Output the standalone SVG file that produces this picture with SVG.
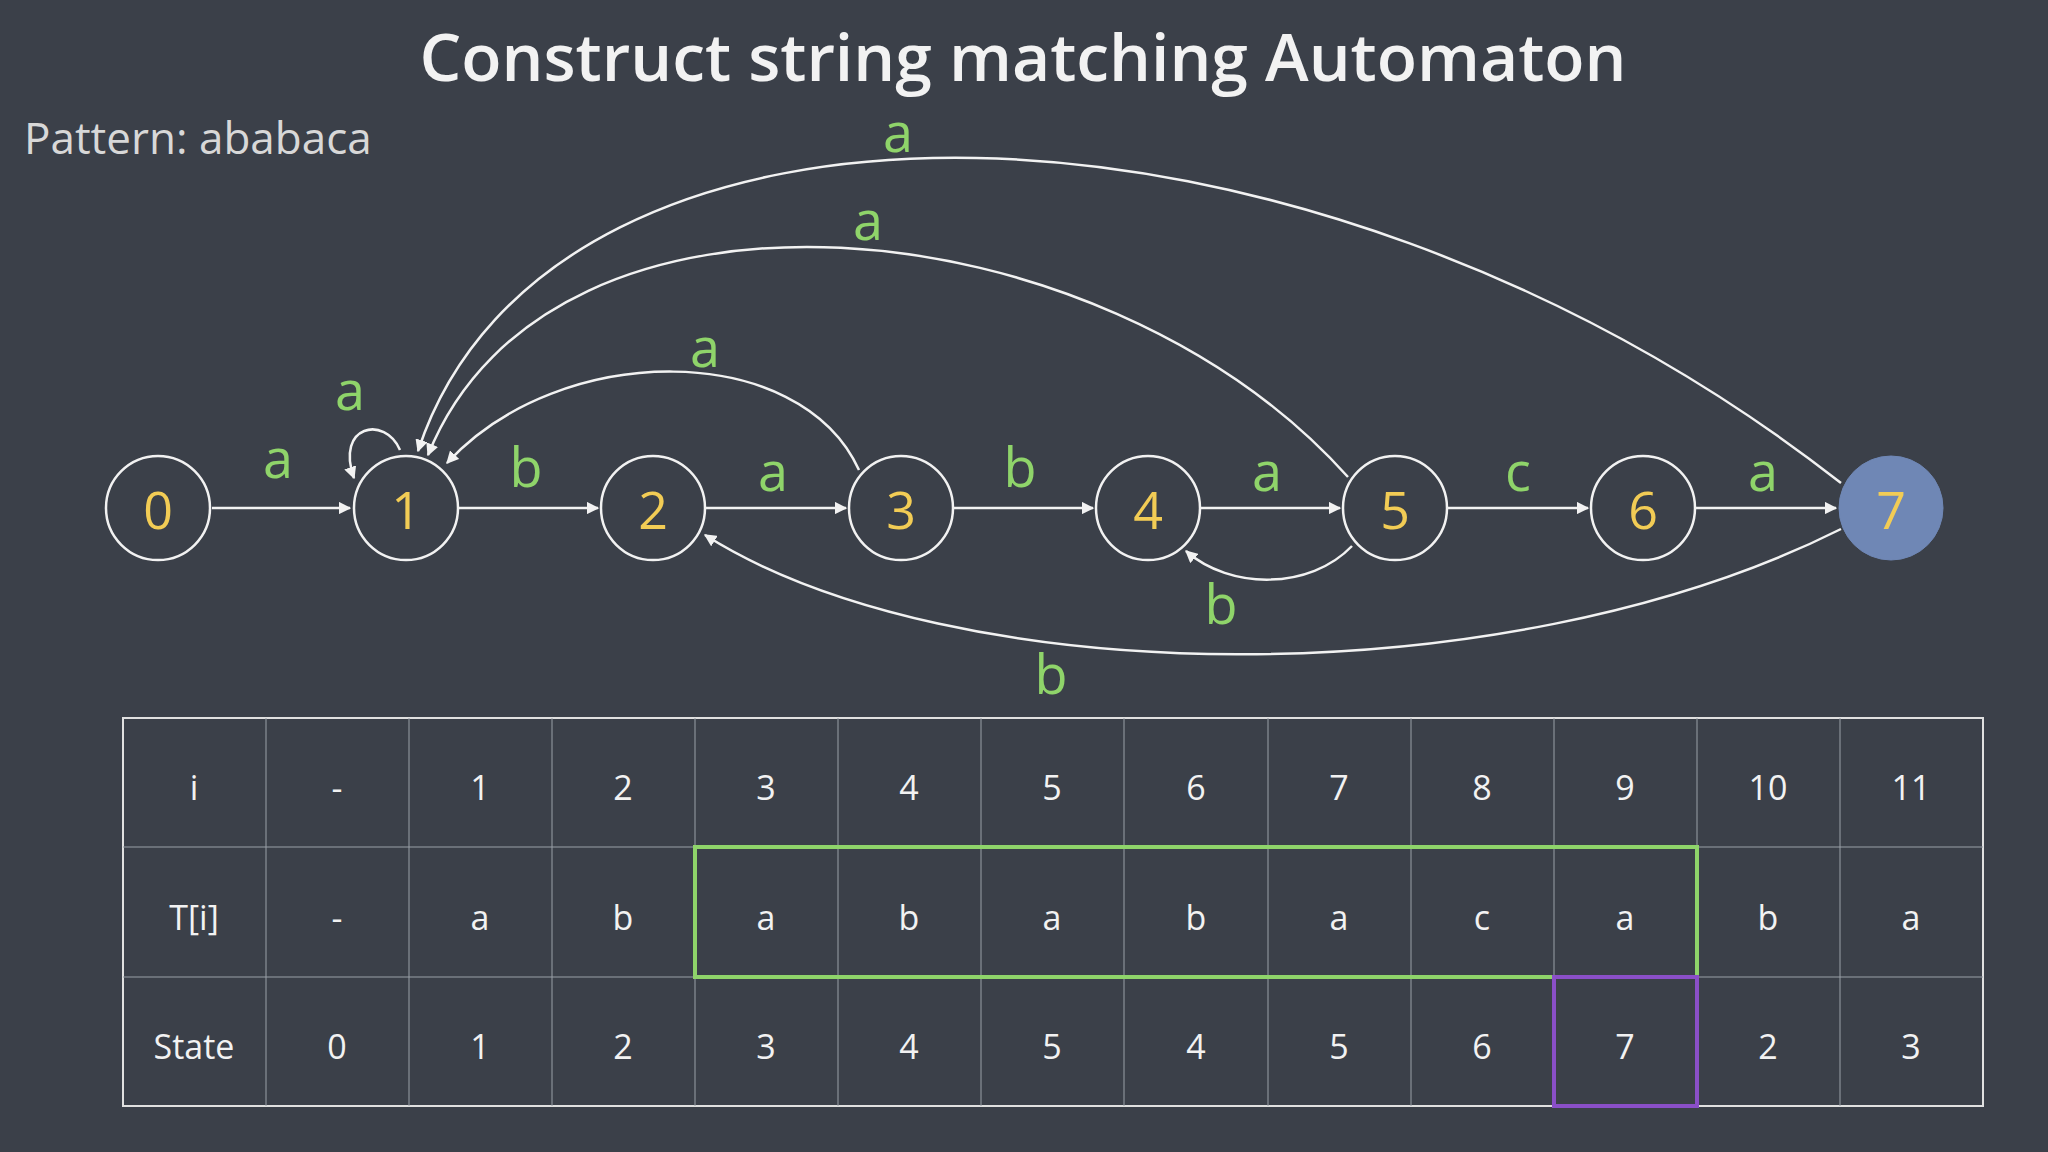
<svg xmlns="http://www.w3.org/2000/svg" width="2048" height="1152" viewBox="0 0 2048 1152">
<style>
.n{fill:none;stroke:#f2f2f2;stroke-width:2.5}
.nt{font-family:"Open Sans",sans-serif;font-size:52px;fill:#f2cc55;text-anchor:middle;dominant-baseline:central}
.e{fill:none;stroke:#f2f2f2;stroke-width:2.5;marker-end:url(#ar)}
.l{font-family:"Open Sans",sans-serif;font-size:54px;fill:#8fd46a;text-anchor:middle;dominant-baseline:central}
.t{font-family:"Open Sans",sans-serif;font-size:34px;fill:#f2f2f2;text-anchor:middle;dominant-baseline:central}
.g{stroke:#9aa0a8;stroke-width:1}
</style>
<defs><marker id="ar" viewBox="0 0 10 10" refX="9" refY="5" markerWidth="5" markerHeight="5" orient="auto"><path d="M0,0L10,5L0,10z" fill="#f2f2f2"/></marker></defs>
<rect width="2048" height="1152" fill="#3b4049"/>
<text x="1023" y="55" font-family="Open Sans,sans-serif" font-size="66" font-weight="600" fill="#f2f2f2" text-anchor="middle" dominant-baseline="central">Construct string matching Automaton</text>
<text x="24" y="137" font-family="Open Sans,sans-serif" font-size="44" fill="#d8d8d8" dominant-baseline="central">Pattern: ababaca</text>
<g id="connectors">
<path class="e" d="M212,508H350"/>
<path class="e" d="M459,508H598"/>
<path class="e" d="M706,508H846"/>
<path class="e" d="M954,508H1093"/>
<path class="e" d="M1201,508H1340"/>
<path class="e" d="M1448,508H1588"/>
<path class="e" d="M1696,508H1836"/>
<path class="e" d="M400,450C385,415 335,425 354,478"/>
<path class="e" d="M859,470C800,340 560,340 447,463"/>
<path class="e" d="M1348,477C1100,200 550,150 428,455"/>
<path class="e" d="M1841,483C1300,60 550,50 418,451"/>
<path class="e" d="M1352,546C1310,590 1230,590 1186,551"/>
<path class="e" d="M1841,529C1500,700 950,690 705,535"/>
</g>
<g id="labels">
<text class="l" x="278" y="457">a</text>
<text class="l" x="350" y="389">a</text>
<text class="l" x="526" y="466">b</text>
<text class="l" x="773" y="470">a</text>
<text class="l" x="1020" y="466">b</text>
<text class="l" x="1267" y="470">a</text>
<text class="l" x="1518" y="470">c</text>
<text class="l" x="1763" y="470">a</text>
<text class="l" x="705" y="346">a</text>
<text class="l" x="868" y="219">a</text>
<text class="l" x="898" y="131">a</text>
<text class="l" x="1221" y="603">b</text>
<text class="l" x="1051" y="673">b</text>
</g>
<g id="n0"><circle class="n" cx="158" cy="508" r="52"/><text class="nt" x="158" y="508">0</text></g>
<g id="n1"><circle class="n" cx="406" cy="508" r="52"/><text class="nt" x="406" y="508">1</text></g>
<g id="n2"><circle class="n" cx="653" cy="508" r="52"/><text class="nt" x="653" y="508">2</text></g>
<g id="n3"><circle class="n" cx="901" cy="508" r="52"/><text class="nt" x="901" y="508">3</text></g>
<g id="n4"><circle class="n" cx="1148" cy="508" r="52"/><text class="nt" x="1148" y="508">4</text></g>
<g id="n5"><circle class="n" cx="1395" cy="508" r="52"/><text class="nt" x="1395" y="508">5</text></g>
<g id="n6"><circle class="n" cx="1643" cy="508" r="52"/><text class="nt" x="1643" y="508">6</text></g>
<g id="n7"><circle cx="1891" cy="508" r="52" fill="#6f87b5" stroke="#6f87b5"/><text class="nt" x="1891" y="508">7</text></g>
<g id="table">
<rect x="123" y="718" width="1860" height="388" fill="none" stroke="#e0e0e0" stroke-width="2"/>
<path class="g" d="M123,847H1983M123,977H1983M266,718V1106M409,718V1106M552,718V1106M695,718V1106M838,718V1106M981,718V1106M1124,718V1106M1268,718V1106M1411,718V1106M1554,718V1106M1697,718V1106M1840,718V1106"/>
<rect x="695" y="847" width="1002" height="130" fill="none" stroke="#8fd46a" stroke-width="4"/>
<rect x="1554" y="977" width="143" height="129" fill="none" stroke="#8a4fc8" stroke-width="4"/>
<text class="t" x="194" y="787">i</text><text class="t" x="337" y="787">-</text><text class="t" x="480" y="787">1</text><text class="t" x="623" y="787">2</text><text class="t" x="766" y="787">3</text><text class="t" x="909" y="787">4</text><text class="t" x="1052" y="787">5</text><text class="t" x="1196" y="787">6</text><text class="t" x="1339" y="787">7</text><text class="t" x="1482" y="787">8</text><text class="t" x="1625" y="787">9</text><text class="t" x="1768" y="787">10</text><text class="t" x="1911" y="787">11</text>
<text class="t" x="194" y="917">T[i]</text><text class="t" x="337" y="917">-</text><text class="t" x="480" y="917">a</text><text class="t" x="623" y="917">b</text><text class="t" x="766" y="917">a</text><text class="t" x="909" y="917">b</text><text class="t" x="1052" y="917">a</text><text class="t" x="1196" y="917">b</text><text class="t" x="1339" y="917">a</text><text class="t" x="1482" y="917">c</text><text class="t" x="1625" y="917">a</text><text class="t" x="1768" y="917">b</text><text class="t" x="1911" y="917">a</text>
<text class="t" x="194" y="1046">State</text><text class="t" x="337" y="1046">0</text><text class="t" x="480" y="1046">1</text><text class="t" x="623" y="1046">2</text><text class="t" x="766" y="1046">3</text><text class="t" x="909" y="1046">4</text><text class="t" x="1052" y="1046">5</text><text class="t" x="1196" y="1046">4</text><text class="t" x="1339" y="1046">5</text><text class="t" x="1482" y="1046">6</text><text class="t" x="1625" y="1046">7</text><text class="t" x="1768" y="1046">2</text><text class="t" x="1911" y="1046">3</text>
</g>
</svg>
